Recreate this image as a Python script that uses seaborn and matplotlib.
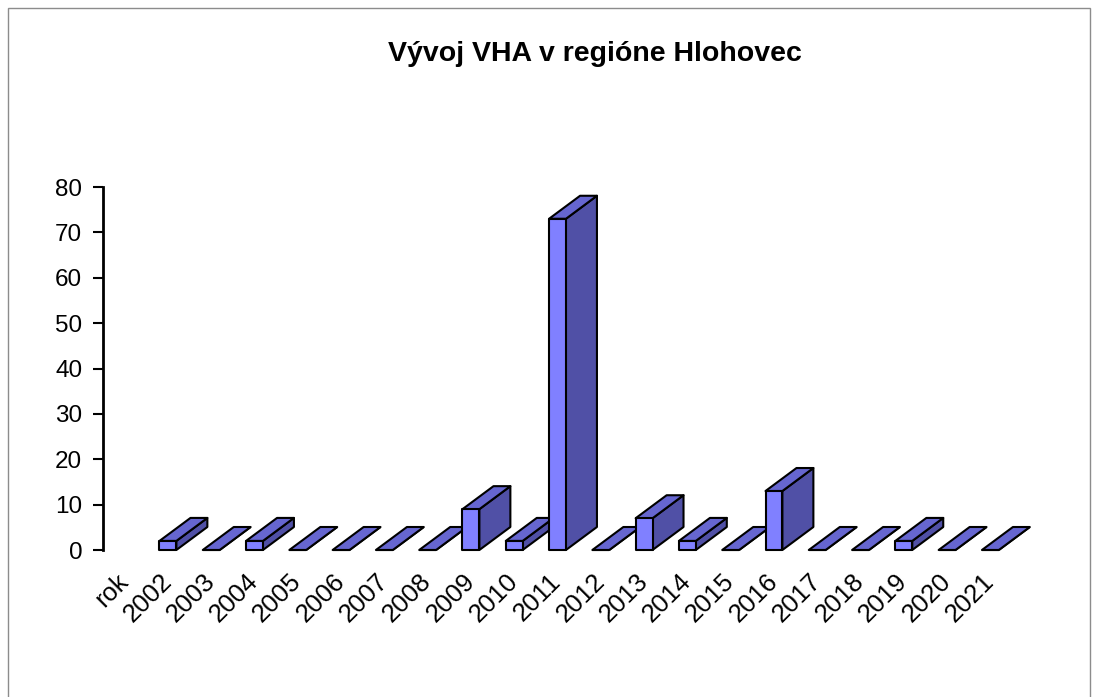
import matplotlib
matplotlib.use("Agg")
import matplotlib.pyplot as plt
from matplotlib.patches import Polygon, Rectangle
import numpy as np
import pandas as pd
import seaborn as sns

# Data
categories = ["rok", "2002", "2003", "2004", "2005", "2006", "2007", "2008", "2009",
              "2010", "2011", "2012", "2013", "2014", "2015", "2016", "2017",
              "2018", "2019", "2020", "2021"]
values = [np.nan, 2, 0, 2, 0, 0, 0, 0, 9, 2, 73, 0, 7, 2, 0, 13, 0, 0, 2, 0, 0]
y_ticks = [0, 10, 20, 30, 40, 50, 60, 70, 80]
title = "Vývoj VHA v regióne Hlohovec"

sns.set_style("white")
plt.rcParams["font.family"] = ["Liberation Sans", "DejaVu Sans"]
plt.rcParams["text.color"] = "black"
plt.rcParams["xtick.color"] = "black"
plt.rcParams["ytick.color"] = "black"

FRONT = "#8080FF"
TOP = "#6666D0"
SIDE = "#5050A6"

df = pd.DataFrame({"rok": categories, "pocet": values})

fig = plt.figure(figsize=(10.98, 6.97), dpi=100)
ax = fig.add_axes([0.0938, 0.2109, 0.8279, 0.5208])

sns.barplot(data=df, x="rok", y="pocet", order=categories, color=FRONT,
            saturation=1, width=0.39, edgecolor="black", linewidth=1.5,
            errorbar=None, ax=ax)

ax.set_ylim(0, 80)
ax.set_xlim(-0.5, len(categories) - 0.5)

# depth of the pseudo-3D columns, in data units
dx = 0.716
dy = 5.07

for k, p in enumerate(sorted(ax.patches, key=lambda r: r.get_x())):
    x0 = p.get_x()
    w = p.get_width()
    h = p.get_height()
    if np.isnan(h):
        continue
    z = 3 + k * 0.1
    side = Polygon([(x0 + w, 0), (x0 + w + dx, dy), (x0 + w + dx, h + dy), (x0 + w, h)],
                   closed=True, facecolor=SIDE, edgecolor="black", linewidth=1.5,
                   joinstyle="round", clip_on=False, zorder=z)
    top = Polygon([(x0, h), (x0 + dx, h + dy), (x0 + w + dx, h + dy), (x0 + w, h)],
                  closed=True, facecolor=TOP, edgecolor="black", linewidth=1.5,
                  joinstyle="round", clip_on=False, zorder=z + 0.01)
    ax.add_patch(side)
    ax.add_patch(top)
    p.set_zorder(z + 0.02)
    p.set_clip_on(False)
    p.set_joinstyle("round")

ax.set_yticks(y_ticks)
ax.set_yticklabels([str(t) for t in y_ticks], fontsize=17.5)
ax.tick_params(axis="y", direction="out", length=7, width=1.5, color="black", pad=8,
               left=True, labelcolor="black")
ax.tick_params(axis="x", length=0, pad=20, labelcolor="black")
ax.set_xticks(range(len(categories)))
ax.set_xticklabels(categories, fontsize=18.5, rotation=45, ha="right",
                   va="center", rotation_mode="anchor")

for s in ("top", "right", "bottom"):
    ax.spines[s].set_visible(False)
ax.spines["left"].set_color("black")
ax.spines["left"].set_linewidth(2)
ax.set_xlabel("")
ax.set_ylabel("")

fig.text(0.542, 0.922, title, ha="center", va="center", fontsize=20.5,
         fontweight="bold", color="black")

# outer frame of the chart area
fig.patches.append(Rectangle((8 / 1098, -0.02), 1082 / 1098, 1.0 - 8 / 697 + 0.02,
                             transform=fig.transFigure, fill=False,
                             edgecolor="#8c8c8c", linewidth=1.0))

fig.savefig("out.png", dpi=100, facecolor="white")
